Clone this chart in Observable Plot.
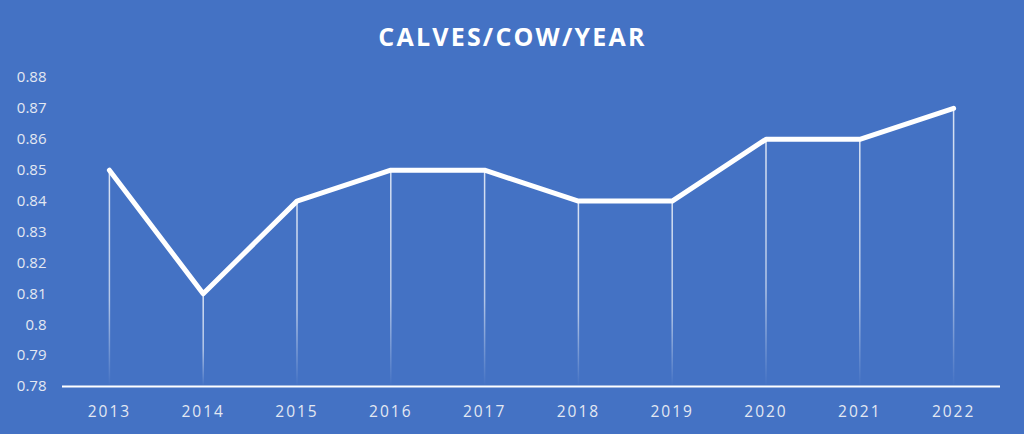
<!DOCTYPE html>
<html>
<head>
<meta charset="utf-8">
<script src="https://cdn.jsdelivr.net/npm/d3@7"></script>
<script src="https://cdn.jsdelivr.net/npm/@observablehq/plot@0.6"></script>
<style>
  html, body { margin: 0; padding: 0; background: #4472C4; }
  #chart { width: 1024px; height: 434px; overflow: hidden; }
</style>
</head>
<body>
<div id="chart"></div>
<script>
const years = ["2013","2014","2015","2016","2017","2018","2019","2020","2021","2022"];
const values = [0.85, 0.81, 0.84, 0.85, 0.85, 0.84, 0.84, 0.86, 0.86, 0.87];
const yTicks = [0.78, 0.79, 0.80, 0.81, 0.82, 0.83, 0.84, 0.85, 0.86, 0.87, 0.88];
const title = "CALVES/COW/YEAR";

const data = years.map((year, i) => ({year, value: values[i]}));
const labelColor = "#E3E8F2";

const chart = Plot.plot({
  width: 1024,
  height: 434,
  marginTop: 77,
  marginBottom: 48,
  marginLeft: 62,
  marginRight: 24,
  style: {background: "#4472C4", fontFamily: "Open Sans, sans-serif", overflow: "visible"},
  x: {type: "point", domain: years, padding: 0.5, round: false, label: null},
  y: {domain: [0.78, 0.88], label: null},
  marks: [
    Plot.ruleX(data, {x: "year", y1: 0.78, y2: "value", stroke: "white", strokeWidth: 1.5, ariaLabel: () => "drop"}),
    Plot.ruleY([0.78], {stroke: "white", strokeWidth: 2}),
    Plot.line(data, {x: "year", y: "value", stroke: "white", strokeWidth: 5, strokeLinejoin: "round", strokeLinecap: "round"}),
    Plot.axisY({ticks: yTicks, tickSize: 0, tickPadding: 0, tickFormat: d => String(+d.toFixed(2)), anchor: "left", dx: -16, fontSize: 15, fill: labelColor}),
    Plot.axisX({tickSize: 0, tickPadding: 19, fontSize: 15.5, fill: labelColor}),
    Plot.text([title], {frameAnchor: "top", lineAnchor: "middle", dx: -19, dy: -40, fontSize: 25, fontWeight: "bold", fill: "white", text: d => d, ariaLabel: () => "title"})
  ]
});

// per-line fading gradients for drop lines
const svg = d3.select(chart);
const defs = svg.insert("defs", ":first-child");
svg.selectAll('line[aria-label="drop"]').each(function(d, i) {
  const l = d3.select(this);
  const y1 = +l.attr("y1"), y2 = +l.attr("y2");
  const top = Math.min(y1, y2), bot = Math.max(y1, y2);
  const id = "fade" + i;
  const g = defs.append("linearGradient").attr("id", id)
    .attr("gradientUnits", "userSpaceOnUse")
    .attr("x1", 0).attr("x2", 0).attr("y1", top).attr("y2", bot);
  g.append("stop").attr("offset", 0).attr("stop-color", "white").attr("stop-opacity", 0.8);
  g.append("stop").attr("offset", 0.6).attr("stop-color", "white").attr("stop-opacity", 0.6);
  g.append("stop").attr("offset", 1).attr("stop-color", "white").attr("stop-opacity", 0);
  l.attr("stroke", `url(#${id})`);
});
// letter spacing for title and x tick labels
svg.selectAll('text[aria-label="title"]').style("letter-spacing", "2.2px");
svg.selectAll('g[aria-label="x-axis tick label"] text').style("letter-spacing", "2px");

document.getElementById("chart").appendChild(chart);
</script>
</body>
</html>
